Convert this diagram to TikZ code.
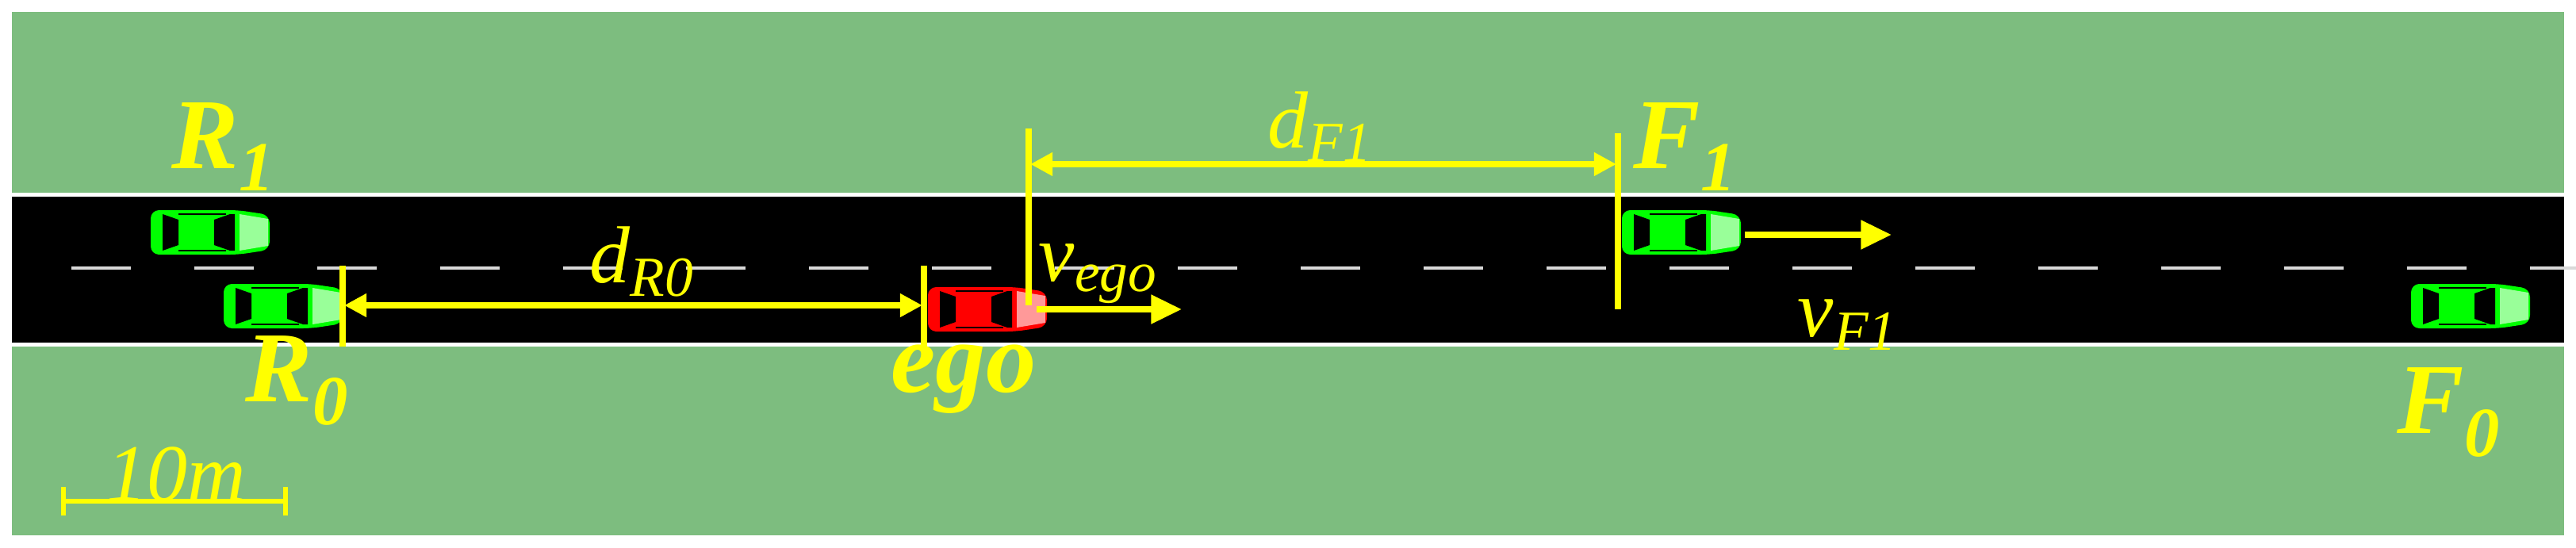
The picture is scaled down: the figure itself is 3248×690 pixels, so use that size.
\documentclass[tikz,border=0pt]{standalone}
\usepackage{fontspec}
\setmainfont{Liberation Serif}
\usetikzlibrary{arrows.meta}
\definecolor{grass}{RGB}{125,189,127}
\definecolor{ylw}{RGB}{255,255,0}
\tikzset{
  dim/.style={ylw,line width=2.2pt},
  vel/.style={ylw,line width=2.2pt,-{Triangle[length=11pt,width=10pt]}},
  dd/.style={ylw,line width=2.2pt,{Triangle[length=8pt,width=8pt]}-{Triangle[length=8pt,width=8pt]}},
  big/.style={ylw,font=\fontsize{36}{36}\selectfont\bfseries\itshape},
  lbl/.style={ylw,font=\fontsize{29}{29}\selectfont\itshape},
  pics/car/.style 2 args={code={
    \fill[#1,rounded corners=3pt] (0,0) -- (110,0) -- (150,6) -- (150,50) -- (110,56) -- (0,56) -- cycle;
    \fill[#2] (112,5) -- (148,11) -- (148,45) -- (112,51) -- cycle;
    \fill[black] (15,5) -- (35,12) -- (35,44) -- (15,51) -- cycle;
    \fill[black] (80,12) -- (100,5) -- (106,5) -- (106,51) -- (100,51) -- (80,44) -- cycle;
    \draw[black,line width=0.6pt] (35,5) -- (95,5) (35,51) -- (95,51);
  }}
}
\begin{document}
\begin{tikzpicture}[x=0.01cm,y=-0.01cm]
\useasboundingbox (0,0) rectangle (3248,690);
\fill[white] (0,0) rectangle (3248,690);
\fill[grass] (15,15) rectangle (3233,675);
\fill[white] (15,243) rectangle (3233,437);
\fill[black] (15,248) rectangle (3233,432);
\foreach \x in {90,245,...,3200} \draw[white!85!black,line width=1pt] (\x,338) -- (\x+75,338);
% cars
\pic at (190,265) {car={green}{green!40!white}};
\pic at (282,358) {car={green}{green!40!white}};
\pic at (2045,265) {car={green}{green!40!white}};
\pic at (3040,358) {car={green}{green!40!white}};
\begin{scope}[shift={(1170,362)},xscale=0.85,yscale=0.85]
\pic at (0,0) {car={red}{red!40!white}};
\end{scope}
% markers
\coordinate (r0a) at (432,335); \coordinate (r0b) at (432,437);
\coordinate (ega) at (1165,335); \coordinate (egb) at (1165,437);
\coordinate (fa) at (1297,162); \coordinate (fb) at (1297,385);
\coordinate (f1a) at (2040,168); \coordinate (f1b) at (2040,390);
\draw[dim] (r0a) -- (r0b); \draw[dim] (ega) -- (egb);
\draw[dim] (fa) -- (fb); \draw[dim] (f1a) -- (f1b);
\coordinate (d1) at (434,385); \coordinate (d2) at (1163,385);
\draw[dd] (d1) -- (d2);
\coordinate (d3) at (1299,207); \coordinate (d4) at (2038,207);
\draw[dd] (d3) -- (d4);
\coordinate (v1) at (1307,390); \coordinate (v2) at (1490,390);
\draw[vel] (v1) -- (v2);
\coordinate (v3) at (2200,296); \coordinate (v4) at (2385,296);
\draw[vel] (v3) -- (v4);
% scale bar
\coordinate (s1) at (80,632); \coordinate (s2) at (360,632);
\draw[ylw,line width=1.5pt] (s1) -- (s2);
\draw[ylw,line width=1.5pt] (80,614) -- (80,650) (360,614) -- (360,650);
% labels
\node[big] (R1) at (282,185) {R\textsubscript{1}};
\node[big] (R0) at (375,480) {R\textsubscript{0}};
\node[big] (E) at (1215,478) {ego};
\node[big] (F1) at (2125,185) {F\textsubscript{1}};
\node[big] (F0) at (3088,520) {F\textsubscript{0}};
\node[lbl] (dR) at (810,330) {d\textsubscript{R0}};
\node[lbl] (dF) at (1665,160) {d\textsubscript{F1}};
\node[lbl] (ve) at (1385,345) {v\textsubscript{ego}};
\node[lbl] (vf) at (2330,410) {v\textsubscript{F1}};
\node[lbl] (sc) at (222,598) {10m};
\end{tikzpicture}
\end{document}
